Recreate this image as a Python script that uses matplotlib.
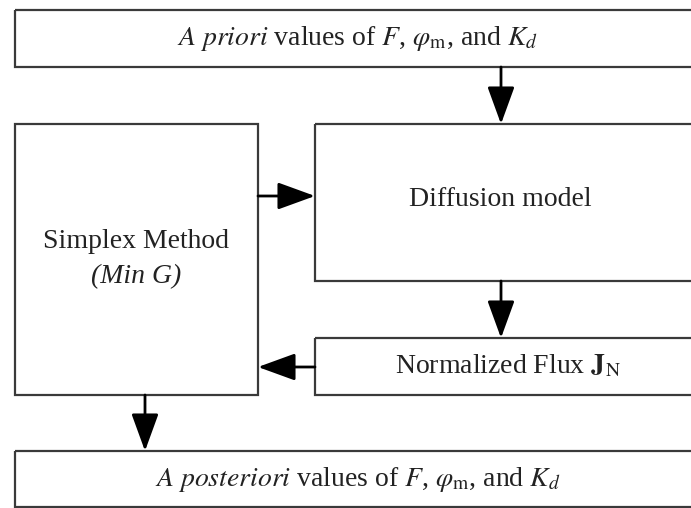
import matplotlib
matplotlib.use("Agg")
import matplotlib.pyplot as plt
from matplotlib.patches import Rectangle, FancyArrowPatch

plt.rcParams["font.family"] = ["Liberation Serif", "DejaVu Serif"]
plt.rcParams["mathtext.fontset"] = "stix"

# box labels
top_label = r"$\mathit{A\ priori}$ values of $F$, $\varphi_{\rm m}$, and $K_d$"
bottom_label = r"$\mathit{A\ posteriori}$ values of $F$, $\varphi_{\rm m}$, and $K_d$"
simplex_labels = ["Simplex Method", "(Min G)"]
model_label = "Diffusion model"
flux_label = r"Normalized Flux $\mathbf{J}_{\rm N}$"

# layout in pixel units (x0, y0, x1, y1), y grows downwards
boxes = {
    "top": (15, 10, 700, 67),
    "simplex": (15, 124, 258, 395),
    "model": (315, 124, 700, 281),
    "flux": (315, 338, 700, 395),
    "bottom": (15, 451, 700, 507),
}

EDGE = "#3a3a3a"
TXT = "#222222"
FS = 20

fig = plt.figure(figsize=(6.91, 5.08), dpi=100)
ax = fig.add_axes([0, 0, 1, 1])
ax.set_xlim(0, 691)
ax.set_ylim(508, 0)
ax.axis("off")

for name, (x0, y0, x1, y1) in boxes.items():
    ax.add_patch(Rectangle((x0, y0), x1 - x0, y1 - y0, fill=False,
                           edgecolor=EDGE, linewidth=1.6, clip_on=True))


def center(name):
    x0, y0, x1, y1 = boxes[name]
    return (x0 + x1) / 2, (y0 + y1) / 2


kw = dict(ha="center", va="center", fontsize=FS, color=TXT)
ax.text(*center("top"), top_label, **kw)
ax.text(*center("bottom"), bottom_label, **kw)
mx, my = center("model")
ax.text(mx - 7, my - 3, model_label, **kw)
ax.text(*center("flux"), flux_label, **kw)
cx, cy = center("simplex")
ax.text(cx, cy - 18, simplex_labels[0], **kw)
ax.text(cx, cy + 17, simplex_labels[1], fontstyle="italic", **kw)


def arrow(p, q):
    ax.add_patch(FancyArrowPatch(p, q, arrowstyle="-|>,head_length=1.65,head_width=0.6",
                                 mutation_scale=14, color="black", linewidth=2,
                                 shrinkA=0, shrinkB=0))


arrow((501, boxes["top"][3]), (501, boxes["model"][1]))
arrow((boxes["simplex"][2], 196), (boxes["model"][0], 196))
arrow((501, boxes["model"][3]), (501, boxes["flux"][1]))
arrow((boxes["flux"][0], 367), (boxes["simplex"][2], 367))
arrow((145, boxes["simplex"][3]), (145, boxes["bottom"][1]))

fig.savefig("out.png", dpi=100)
